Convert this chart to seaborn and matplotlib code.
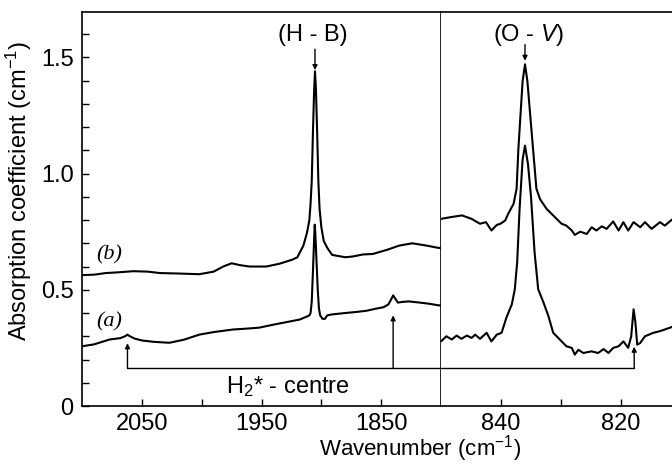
import matplotlib
matplotlib.use("Agg")
import matplotlib.pyplot as plt
import seaborn as sns
from matplotlib.ticker import FixedLocator, MultipleLocator, FuncFormatter

# spectrum (b), H-B region
b_left_wn = [2100, 2090, 2080, 2070, 2057, 2045, 2035, 2020, 2002, 1990,
             1982, 1975, 1968, 1960, 1946, 1935, 1924, 1920, 1915, 1912,
             1910, 1909, 1908, 1907, 1906, 1905.3, 1904.5, 1903.5, 1902.5, 1901.5,
             1900, 1898, 1895, 1891, 1880, 1874, 1865, 1857, 1845, 1835,
             1824, 1812, 1802, 1800]
b_left = [0.563, 0.565, 0.572, 0.575, 0.580, 0.578, 0.572, 0.570, 0.567, 0.578,
          0.600, 0.614, 0.606, 0.600, 0.600, 0.612, 0.630, 0.640, 0.690, 0.745,
          0.800, 0.870, 0.970, 1.180, 1.360, 1.440, 1.360, 1.180, 0.970, 0.850,
          0.770, 0.710, 0.680, 0.650, 0.640, 0.643, 0.652, 0.654, 0.672, 0.690,
          0.700, 0.690, 0.680, 0.680]

# spectrum (a), H-B region
a_left_wn = [2100, 2090, 2077, 2068, 2064, 2062, 2060, 2056, 2050, 2040,
             2027, 2015, 2002, 1990, 1974, 1962, 1952, 1940, 1930, 1918,
             1912, 1910, 1909, 1908, 1907, 1906, 1905.5, 1905, 1904, 1903,
             1902, 1901, 1899, 1897, 1895, 1891, 1880, 1870, 1862, 1855,
             1848, 1844, 1842, 1840, 1838, 1836, 1832, 1827, 1818, 1810,
             1802, 1800]
a_left = [0.257, 0.265, 0.286, 0.292, 0.300, 0.307, 0.300, 0.290, 0.282, 0.276,
          0.272, 0.285, 0.307, 0.318, 0.329, 0.333, 0.337, 0.350, 0.360, 0.372,
          0.385, 0.390, 0.400, 0.450, 0.580, 0.720, 0.780, 0.740, 0.620, 0.500,
          0.420, 0.390, 0.375, 0.375, 0.390, 0.394, 0.400, 0.405, 0.410, 0.418,
          0.425, 0.437, 0.455, 0.476, 0.460, 0.445, 0.448, 0.450, 0.445, 0.440,
          0.433, 0.433]

# spectrum (b), O-V region
b_right_wn = [850, 848.5, 846.5, 844.9, 843.5, 842.5, 841.6, 840.7, 840.1, 839.3,
              838.8, 837.9, 837.4, 837.1, 836.4, 836.0, 835.6, 834.9, 834.1, 833.5,
              832.4, 831.0, 829.9, 829.1, 828.2, 827.7, 826.8, 825.7, 824.9, 824.1,
              823.2, 822.4, 821.3, 820.4, 819.6, 818.8, 817.9, 816.8, 816.0, 814.9,
              813.5, 812.7, 811.5]
b_right = [0.805, 0.812, 0.820, 0.805, 0.784, 0.791, 0.755, 0.779, 0.784, 0.798,
           0.827, 0.870, 0.935, 1.108, 1.397, 1.470, 1.397, 1.180, 0.935, 0.890,
           0.848, 0.812, 0.784, 0.776, 0.755, 0.736, 0.750, 0.740, 0.769, 0.755,
           0.773, 0.762, 0.794, 0.755, 0.791, 0.755, 0.791, 0.769, 0.791, 0.762,
           0.791, 0.776, 0.802]

# spectrum (a), O-V region
a_right_wn = [850, 849.1, 848.2, 847.4, 846.6, 845.7, 844.9, 844.3, 843.5, 842.4,
              841.6, 840.7, 839.9, 839.1, 838.2, 837.7, 837.3, 836.9, 836.4, 836.0,
              835.5, 835.0, 834.4, 833.8, 832.9, 832.1, 831.3, 830.2, 829.1, 828.2,
              827.7, 827.1, 826.3, 824.9, 823.8, 822.9, 822.1, 821.3, 820.4, 819.6,
              818.8, 818.3, 817.9, 817.6, 817.3, 816.8, 816.0, 814.6, 813.5, 811.5]
a_right = [0.278, 0.300, 0.286, 0.303, 0.289, 0.303, 0.293, 0.307, 0.289, 0.315,
           0.278, 0.307, 0.315, 0.380, 0.437, 0.502, 0.620, 0.850, 1.060, 1.120,
           1.040, 0.900, 0.660, 0.502, 0.444, 0.387, 0.315, 0.286, 0.257, 0.250,
           0.221, 0.242, 0.228, 0.235, 0.228, 0.245, 0.228, 0.250, 0.257, 0.278,
           0.250, 0.300, 0.416, 0.360, 0.264, 0.271, 0.300, 0.315, 0.322, 0.340]

# H2* centre markers: position and arrow tip height
h2_left_wn = [2062, 1840]
h2_left_tip = [0.27, 0.39]
h2_right_wn = [817.8]
h2_right_tip = [0.255]
h2_level = 0.164

sns.set_theme(style="ticks")
plt.rcParams["font.family"] = ["Liberation Sans", "DejaVu Sans"]
plt.rcParams["mathtext.fontset"] = "custom"
plt.rcParams["mathtext.rm"] = "Liberation Sans"
plt.rcParams["mathtext.it"] = "Liberation Sans:italic"
plt.rcParams["mathtext.default"] = "regular"
for key in ("text.color", "axes.labelcolor", "xtick.color", "ytick.color"):
    plt.rcParams[key] = "black"

FS = 17
W, H = 672, 465
fig = plt.figure(figsize=(W / 100, H / 100), dpi=100)
bot = 1 - 406 / H
hgt = (406 - 12) / H
ax1 = fig.add_axes([82 / W, bot, (441 - 82) / W, hgt])
ax2 = fig.add_axes([441 / W, bot, (672 - 441) / W, hgt])

lw = 1.5
for ax in (ax1, ax2):
    for s in ax.spines.values():
        s.set_linewidth(1.2)
        s.set_color("black")
    ax.set_ylim(0, 1.695)
    ax.tick_params(direction="in", which="both", width=1.0, colors="black",
                   labelsize=FS, length=5)
    ax.tick_params(axis="x", which="both", pad=5)
    ax.tick_params(axis="y", which="both", pad=6)

sns.lineplot(x=b_left_wn, y=b_left, ax=ax1, color="black", lw=lw, estimator=None)
sns.lineplot(x=a_left_wn, y=a_left, ax=ax1, color="black", lw=lw, estimator=None)
sns.lineplot(x=b_right_wn, y=b_right, ax=ax2, color="black", lw=lw, estimator=None)
sns.lineplot(x=a_right_wn, y=a_right, ax=ax2, color="black", lw=lw, estimator=None)

ax1.set_xlim(2100, 1800)
ax2.set_xlim(850, 811.5)

ax1.xaxis.set_major_locator(FixedLocator([2050, 1950, 1850]))
ax1.xaxis.set_minor_locator(FixedLocator([2000, 1900]))
ax2.xaxis.set_major_locator(FixedLocator([840, 820]))
ax2.xaxis.set_minor_locator(FixedLocator([830]))

ax1.yaxis.set_major_locator(MultipleLocator(0.5))
ax1.yaxis.set_minor_locator(MultipleLocator(0.1))
ax1.yaxis.set_major_formatter(FuncFormatter(lambda v, p: "0" if v == 0 else f"{v:.1f}"))
ax2.spines["left"].set_visible(False)
ax2.spines["right"].set_visible(False)
ax2.tick_params(axis="y", which="both", left=False, labelleft=False)

ax1.set_ylabel("Absorption coefficient (cm$^{-1}$)", fontsize=FS)
ax1.yaxis.set_label_coords(-0.135, 0.545)
ax1.set_xlabel("")
fig.text(420 / W, 1 - 449 / H, "Wavenumber (cm$^{-1}$)", ha="center", va="center",
         fontsize=16)

# H2* centre bracket
ax1.plot([h2_left_wn[0], 1800], [h2_level, h2_level], color="black", lw=1.0)
ax2.plot([850, h2_right_wn[0]], [h2_level, h2_level], color="black", lw=1.0)
arrow = dict(arrowstyle="-|>", color="black", lw=1.0, mutation_scale=7,
             shrinkA=0, shrinkB=0)
for x, tip in zip(h2_left_wn, h2_left_tip):
    ax1.annotate("", xy=(x, tip), xytext=(x, h2_level), arrowprops=arrow)
for x, tip in zip(h2_right_wn, h2_right_tip):
    ax2.annotate("", xy=(x, tip), xytext=(x, h2_level), arrowprops=arrow)
ax1.text(1927.5, 0.083, "H$_2$* - centre", ha="center", va="center", fontsize=FS)

# peak labels
ax1.annotate("", xy=(1905.3, 1.445), xytext=(1905.3, 1.535), arrowprops=arrow)
ax1.text(1907, 1.595, "(H - B)", ha="center", va="center", fontsize=FS)
ax2.annotate("", xy=(836.0, 1.485), xytext=(836.0, 1.555), arrowprops=arrow)
ax2.text(835.3, 1.595, r"(O - $\mathit{V}$)", ha="center", va="center", fontsize=FS)

serif = dict(family=["Liberation Serif", "DejaVu Serif"], style="italic", fontsize=16)
ax1.text(2077, 0.65, "(b)", ha="center", va="center", **serif)
ax1.text(2077, 0.36, "(a)", ha="center", va="center", **serif)

fig.savefig("out.png", dpi=100)
